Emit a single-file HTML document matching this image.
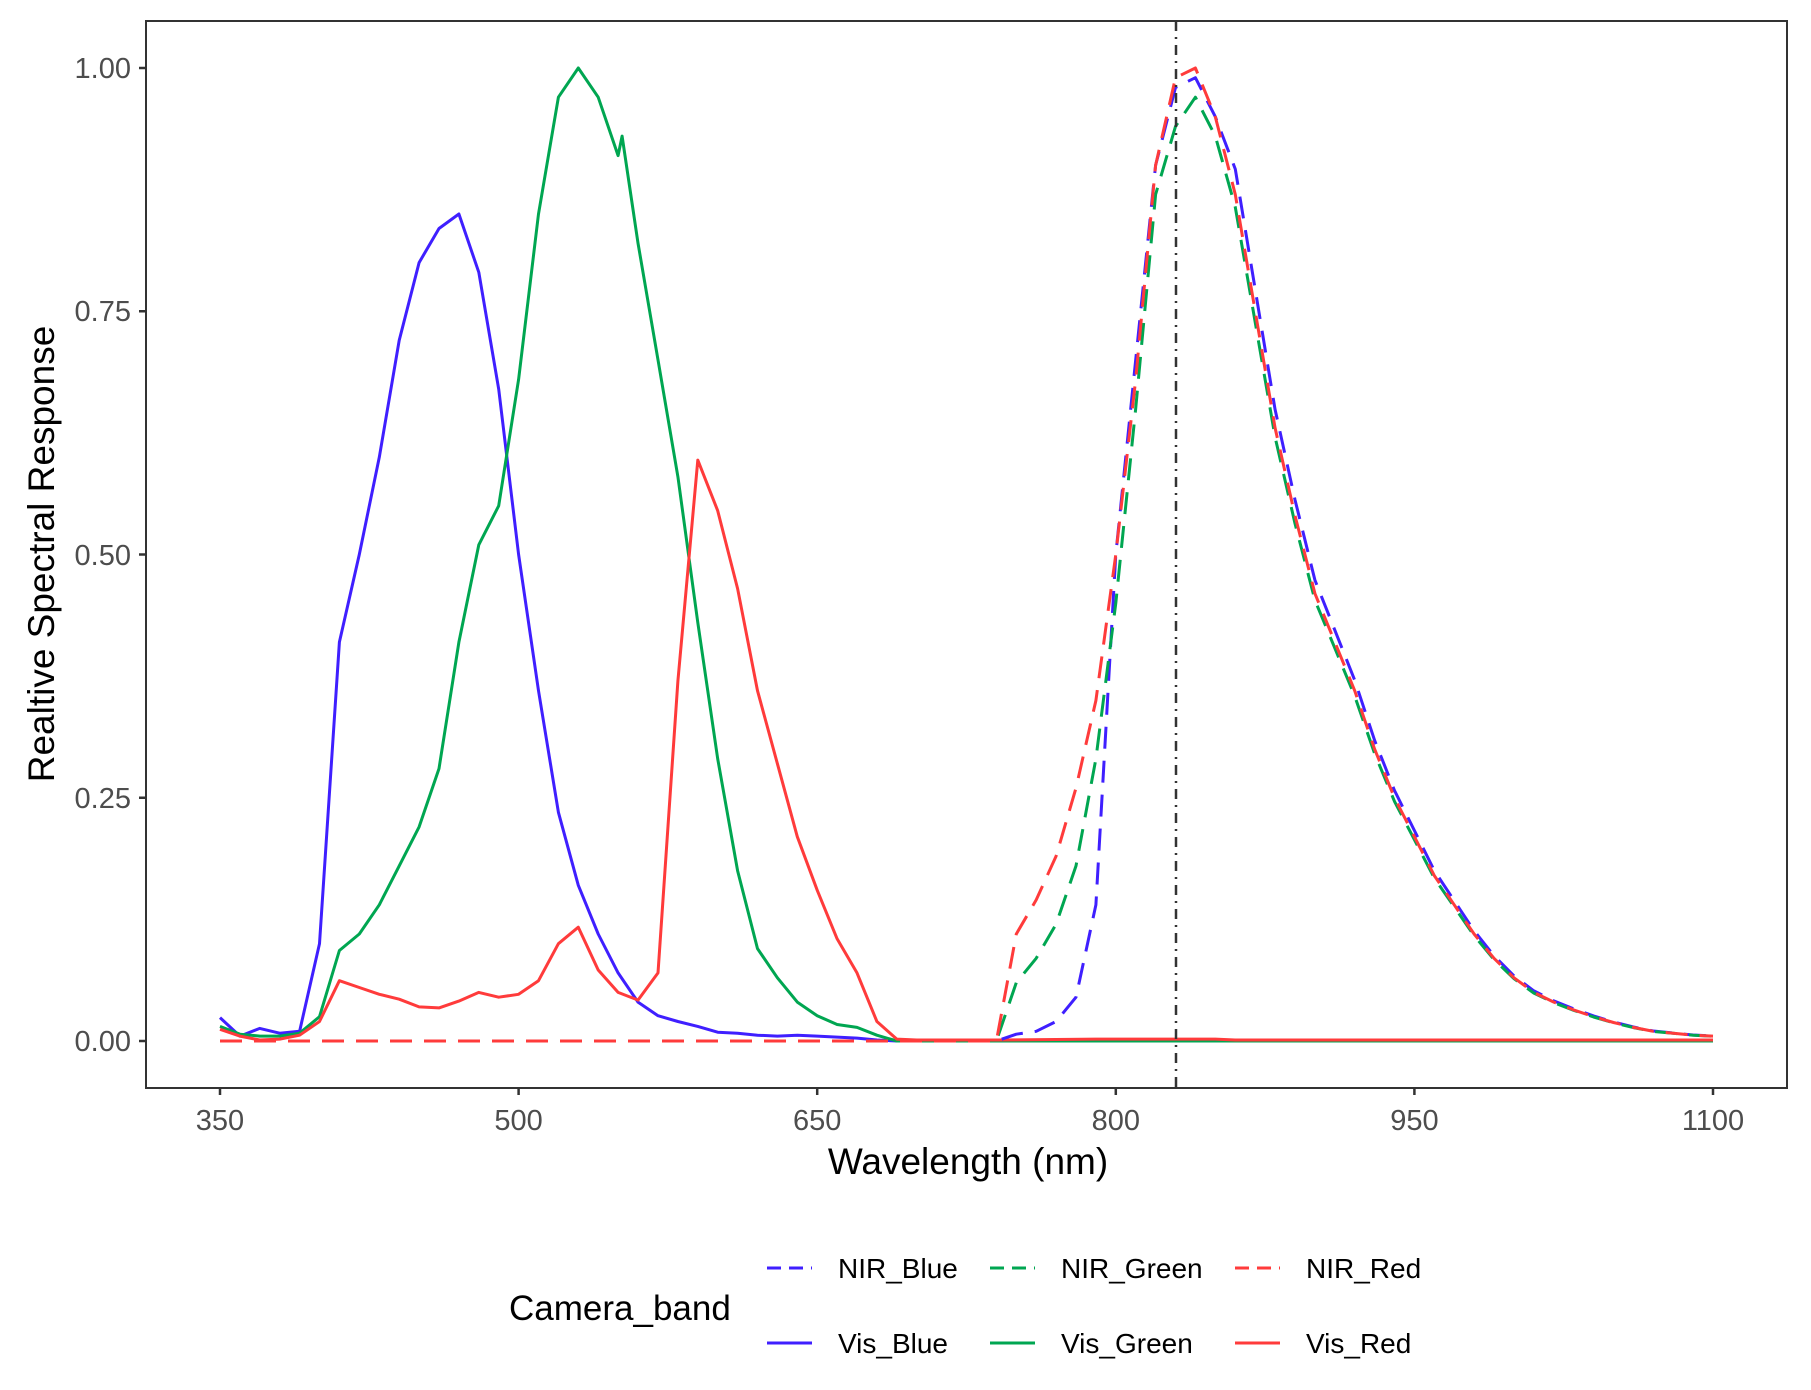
<!DOCTYPE html>
<html><head><meta charset="utf-8"><style>
html,body{margin:0;padding:0;background:#fff;}
svg{display:block;}
text{font-family:"Liberation Sans",sans-serif;}
</style></head><body>
<svg id="s" width="1811" height="1390" xmlns="http://www.w3.org/2000/svg">
<rect x="0" y="0" width="1811" height="1390" fill="#fff"/>
<g id="lines"></g>
<line x1="1176" y1="21" x2="1176" y2="1088" stroke="#333" stroke-width="2.5" stroke-dasharray="10 6 2 6"/>
<rect x="146" y="21" width="1641" height="1067" fill="none" stroke="#333" stroke-width="2"/>
<g stroke="#333" stroke-width="2.5">
<line x1="139" y1="1041" x2="146" y2="1041"/><line x1="139" y1="797.75" x2="146" y2="797.75"/>
<line x1="139" y1="554.5" x2="146" y2="554.5"/><line x1="139" y1="311.25" x2="146" y2="311.25"/>
<line x1="139" y1="68" x2="146" y2="68"/>
<line x1="220" y1="1088" x2="220" y2="1095"/><line x1="518.6" y1="1088" x2="518.6" y2="1095"/>
<line x1="817.2" y1="1088" x2="817.2" y2="1095"/><line x1="1115.8" y1="1088" x2="1115.8" y2="1095"/>
<line x1="1414.4" y1="1088" x2="1414.4" y2="1095"/><line x1="1713" y1="1088" x2="1713" y2="1095"/>
</g>
<g font-size="29" fill="#4d4d4d" text-anchor="end">
<text x="131" y="1051">0.00</text><text x="131" y="808">0.25</text>
<text x="131" y="565">0.50</text><text x="131" y="321">0.75</text><text x="131" y="78">1.00</text>
</g>
<g font-size="29" fill="#4d4d4d" text-anchor="middle">
<text x="220" y="1130">350</text><text x="518.6" y="1130">500</text><text x="817.2" y="1130">650</text>
<text x="1115.8" y="1130">800</text><text x="1414.4" y="1130">950</text><text x="1713" y="1130">1100</text>
</g>
<text x="968" y="1174" font-size="37" text-anchor="middle" fill="#000">Wavelength (nm)</text>
<text transform="translate(54,554) rotate(-90)" font-size="37" text-anchor="middle" fill="#000">Realtive Spectral Response</text>
<text x="509" y="1320" font-size="35" fill="#000">Camera_band</text>
<g stroke-width="3">
<line x1="767" y1="1268" x2="812" y2="1268" stroke="#3F1FFF" stroke-dasharray="14 8"/>
<line x1="990" y1="1268" x2="1035" y2="1268" stroke="#00A651" stroke-dasharray="14 8"/>
<line x1="1235" y1="1268" x2="1280" y2="1268" stroke="#FF3B3B" stroke-dasharray="14 8"/>
<line x1="767" y1="1343" x2="812" y2="1343" stroke="#3F1FFF"/>
<line x1="990" y1="1343" x2="1035" y2="1343" stroke="#00A651"/>
<line x1="1235" y1="1343" x2="1280" y2="1343" stroke="#FF3B3B"/>
</g>
<g font-size="28" fill="#000">
<text x="838" y="1278">NIR_Blue</text><text x="1061" y="1278">NIR_Green</text><text x="1306" y="1278">NIR_Red</text>
<text x="838" y="1353">Vis_Blue</text><text x="1061" y="1353">Vis_Green</text><text x="1306" y="1353">Vis_Red</text>
</g>
</svg>
<script>
function X(n){return 220+(n-350)*1.9907;}
function Y(v){return 1041-v*973;}
var tail=[[860,0.87],[870,0.75],[880,0.63],[890,0.54],[900,0.46],[910,0.41],[920,0.36],[930,0.3],[940,0.25],[950,0.21],[960,0.17],[970,0.14],[980,0.11],[990,0.085],[1000,0.065],[1010,0.05],[1020,0.04],[1030,0.032],[1040,0.025],[1050,0.019],[1060,0.014],[1070,0.01],[1080,0.008],[1090,0.006],[1100,0.005]];
function zeros(a,b){var r=[];for(var n=a;n<=b;n+=10)r.push([n,0]);return r;}
var visB=[[350,0.024],[360,0.005],[370,0.013],[380,0.008],[390,0.01],[400,0.1],[410,0.41],[420,0.5],[430,0.6],[440,0.72],[450,0.8],[460,0.835],[470,0.85],[480,0.79],[490,0.67],[500,0.5],[510,0.36],[520,0.235],[530,0.16],[540,0.11],[550,0.07],[560,0.04],[570,0.026],[580,0.02],[590,0.015],[600,0.009],[610,0.008],[620,0.006],[630,0.005],[640,0.006],[650,0.005],[660,0.004],[670,0.003],[680,0.001]].concat(zeros(690,1100));
var visG=[[350,0.015],[360,0.007],[370,0.005],[380,0.005],[390,0.008],[400,0.025],[410,0.093],[420,0.11],[430,0.14],[440,0.18],[450,0.22],[460,0.28],[470,0.41],[480,0.51],[490,0.55],[500,0.68],[510,0.85],[520,0.97],[530,1.0],[540,0.97],[550,0.91],[552,0.93],[560,0.82],[570,0.7],[580,0.58],[590,0.43],[600,0.29],[610,0.175],[620,0.095],[630,0.065],[640,0.04],[650,0.026],[660,0.017],[670,0.014],[680,0.006]].concat(zeros(690,1100));
var visR=[[350,0.012],[360,0.005],[370,0.001],[380,0.002],[390,0.006],[400,0.02],[410,0.062],[420,0.055],[430,0.048],[440,0.043],[450,0.035],[460,0.034],[470,0.041],[480,0.05],[490,0.045],[500,0.048],[510,0.062],[520,0.1],[530,0.117],[540,0.073],[550,0.05],[560,0.042],[570,0.07],[580,0.37],[590,0.597],[600,0.545],[610,0.465],[620,0.36],[630,0.285],[640,0.21],[650,0.155],[660,0.105],[670,0.07],[680,0.02],[690,0.002],[700,0.001],[740,0.001],[790,0.002],[850,0.002],[860,0.001],[1100,0.001]];
var nirR=zeros(350,740).concat([[750,0.11],[760,0.145],[770,0.19],[780,0.26],[790,0.35],[800,0.5],[810,0.68],[820,0.9],[830,0.99],[840,1.0],[850,0.95]]).concat(tail);
var nirG=zeros(350,740).concat([[750,0.06],[760,0.085],[770,0.12],[780,0.18],[790,0.29],[800,0.45],[810,0.65],[820,0.87],[830,0.94],[840,0.97],[850,0.93]]).concat(tail.map(function(p){return [p[0],p[1]*0.985];}));
var nirB=zeros(350,740).concat([[750,0.007],[760,0.01],[770,0.02],[780,0.045],[790,0.14],[800,0.5],[810,0.7],[820,0.9],[830,0.98],[840,0.99],[850,0.95]]).concat(tail.map(function(p){return [p[0],p[1]*1.03];}));
var series=[[visB,"#3F1FFF",""],[visG,"#00A651",""],[visR,"#FF3B3B",""],[nirB,"#3F1FFF","22 12"],[nirG,"#00A651","22 12"],[nirR,"#FF3B3B","22 12"]];
var g=document.getElementById("lines"),h="";
series.forEach(function(s){var pts=s[0].map(function(p){return X(p[0]).toFixed(1)+","+Y(p[1]).toFixed(1);}).join(" ");
h+='<polyline points="'+pts+'" fill="none" stroke="'+s[1]+'" stroke-width="3" stroke-linejoin="round"'+(s[2]?' stroke-dasharray="'+s[2]+'"':'')+'/>';});
g.innerHTML=h;
</script>
</body></html>
